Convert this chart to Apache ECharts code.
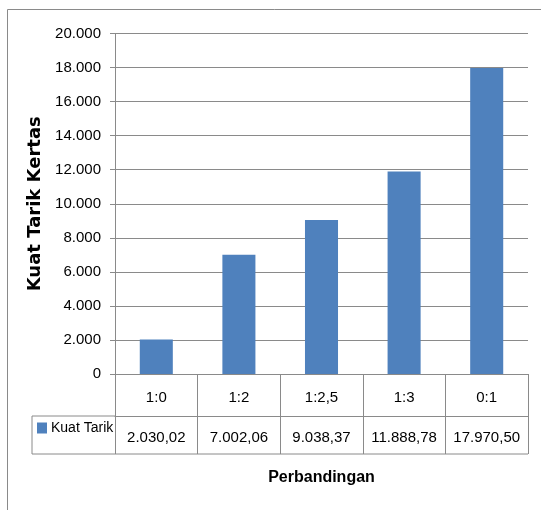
<!DOCTYPE html>
<html>
<head>
<meta charset="utf-8">
<script src="https://cdn.jsdelivr.net/npm/echarts@6/dist/echarts.min.js"></script>
<style>
html,body{margin:0;padding:0;background:#fff;}
#c{width:541px;height:510px;}
</style>
</head>
<body>
<div id="c"></div>
<script>
var categories = ['1:0', '1:2', '1:2,5', '1:3', '0:1'];
var kuatTarik = [2030.02, 7002.06, 9038.37, 11888.78, 17970.50];
var seriesName = 'Kuat Tarik';
var yTitle = 'Kuat Tarik Kertas';
var xTitle = 'Perbandingan';

function fmtId(v, dec) {
  var s = v.toFixed(dec);
  var parts = s.split('.');
  var ip = parts[0].replace(/\B(?=(\d{3})+(?!\d))/g, '.');
  return dec ? ip + ',' + parts[1] : ip;
}

var FONT = "'Liberation Sans', Arial, sans-serif";
var LINE = '#8a8a8a';
var gL = 115, gR = 13, gT = 33.5, gB = 136;
var W = 541, H = 510;
var x0 = gL, x1 = W - gR, yAx = H - gB;

var chart = echarts.init(document.getElementById('c'));
chart.setOption({
  animation: false,
  backgroundColor: '#fff',
  grid: {left: gL, right: gR, top: gT, bottom: gB},
  legend: {
    data: [seriesName],
    left: 37, top: yAx + 47,
    icon: 'rect', itemWidth: 10, itemHeight: 11, itemGap: 4,
    textStyle: {fontFamily: FONT, fontSize: 14, color: '#000', padding: [0,0,0,-1]},
    padding: 0
  },
  xAxis: [{
    type: 'category',
    data: categories,
    position: 'bottom',
    axisLine: {show: true, lineStyle: {color: LINE, width: 1}},
    axisTick: {show: true, length: 80, lineStyle: {color: LINE, width: 1}},
    axisLabel: {interval: 0, fontFamily: FONT, fontSize: 15, color: '#000', margin: 16},
    name: xTitle,
    nameLocation: 'middle',
    nameGap: 96,
    nameTextStyle: {fontFamily: FONT, fontSize: 16, fontWeight: 'bold', color: '#000'}
  }, {
    type: 'category',
    data: categories,
    position: 'bottom',
    offset: 42,
    axisLine: {show: true, lineStyle: {color: LINE, width: 1}},
    axisTick: {show: true, length: 38, lineStyle: {color: LINE, width: 1}},
    axisLabel: {interval: 0, fontFamily: FONT, fontSize: 15, color: '#000', margin: 14,
      formatter: function (v, i) { return fmtId(kuatTarik[i], 2); }}
  }],
  yAxis: {
    type: 'value',
    min: 0, max: 20000, interval: 2000,
    axisLine: {show: true, lineStyle: {color: LINE, width: 1}},
    axisTick: {show: true, length: 5, lineStyle: {color: LINE}},
    splitLine: {show: true, lineStyle: {color: LINE, width: 1}},
    axisLabel: {fontFamily: FONT, fontSize: 15, color: '#000', margin: 14,
      formatter: function (v) { return fmtId(v, 0); }},
    name: yTitle,
    nameLocation: 'middle',
    nameGap: 64,
    nameRotate: 90,
    nameTextStyle: {fontFamily: "'DejaVu Sans', sans-serif", fontSize: 18, fontWeight: 'bold', color: '#000'}
  },
  series: [{
    name: seriesName,
    type: 'bar',
    data: kuatTarik,
    barWidth: '40%',
    itemStyle: {color: '#4F81BD'}
  }],
  graphic: [{
    type: 'rect',
    shape: {x: 7.5, y: 9.5, width: 600, height: 600},
    style: {fill: null, stroke: '#8a8a8a', lineWidth: 1},
    silent: true, z: -1
  }, {
    type: 'polyline',
    shape: {points: [[x0, yAx + 42], [32, yAx + 42], [32, yAx + 80], [x1, yAx + 80]]},
    style: {fill: null, stroke: LINE, lineWidth: 1},
    silent: true
  }]
});
</script>
</body>
</html>
